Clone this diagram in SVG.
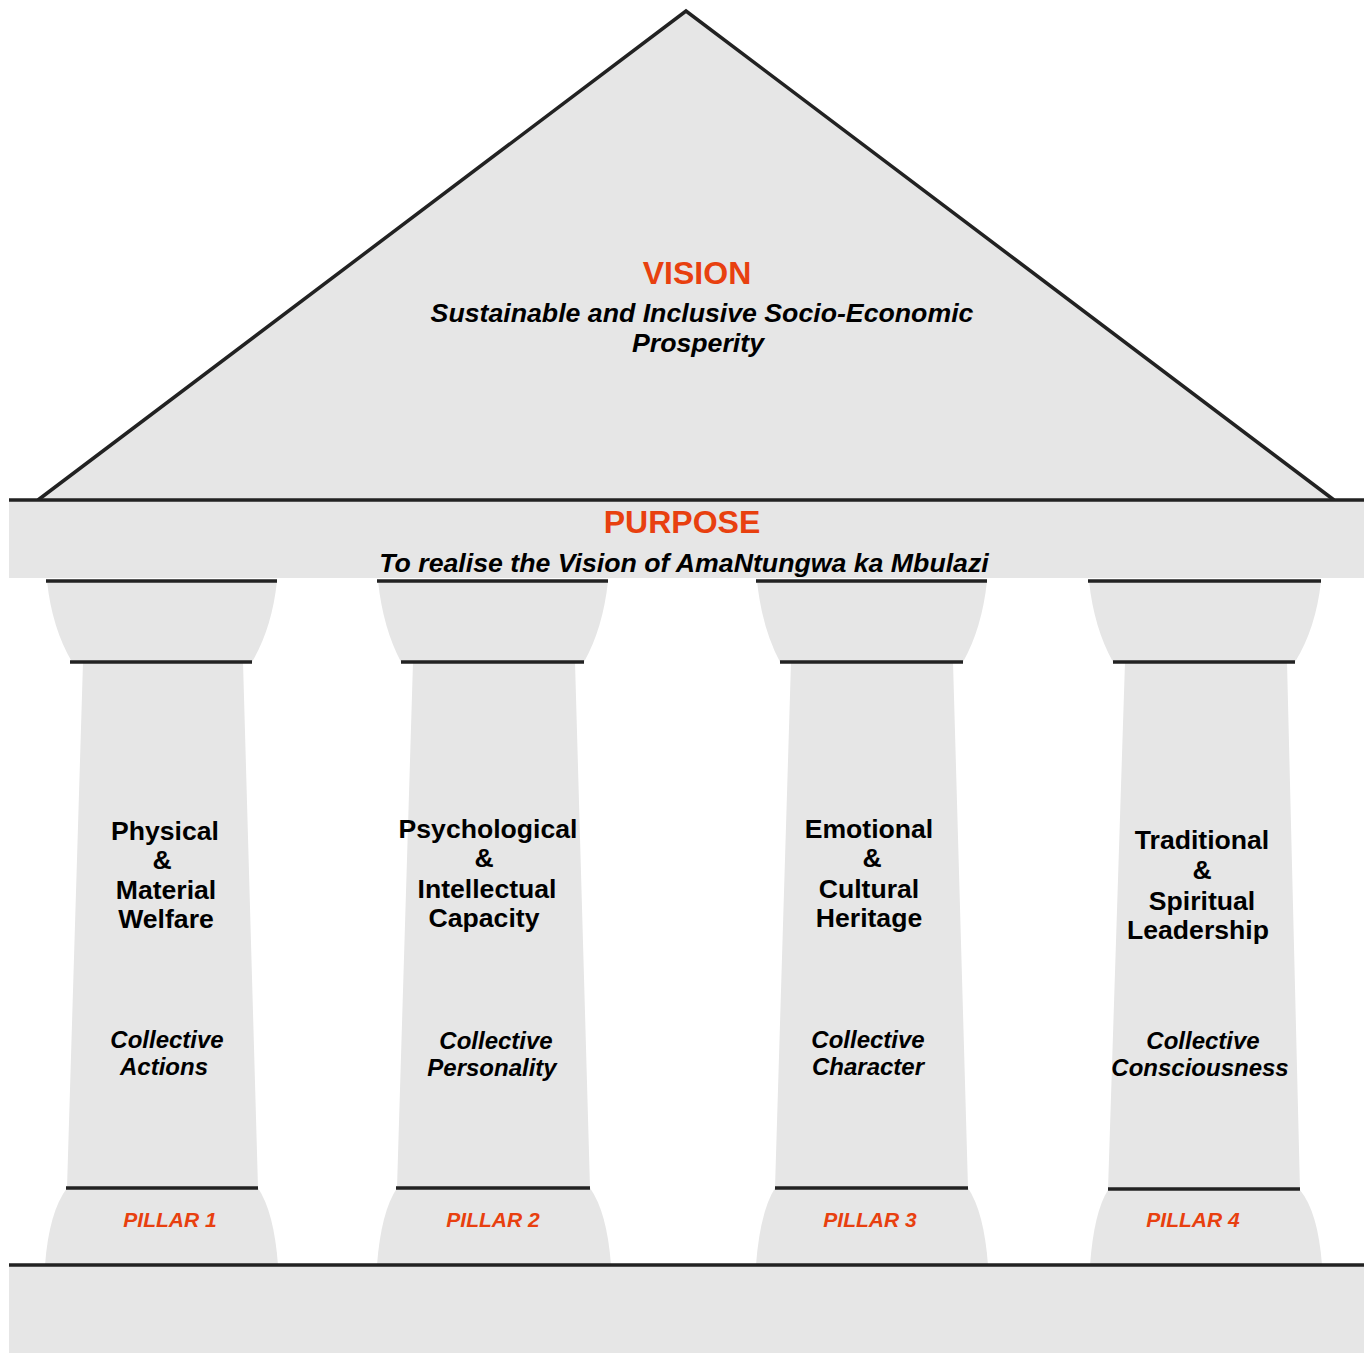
<svg xmlns="http://www.w3.org/2000/svg" width="1369" height="1353" viewBox="0 0 1369 1353">
<style>
.fill{fill:#e6e6e6;stroke:none}
.ln{stroke:#222;stroke-width:3.5;fill:none;stroke-linecap:butt}
.t{font-family:"Liberation Sans",Arial,sans-serif;font-weight:bold;text-anchor:middle;fill:#000}
.red{fill:#e8400f}
.h{font-size:32px}
.sub{font-size:26.7px;font-style:italic}
.pt{font-size:26.6px}
.ct{font-size:24px;font-style:italic}
.pl{font-size:21px;font-style:italic}
</style>
<rect width="1369" height="1353" fill="#fff"/>
<g id="vision">
<polygon class="fill" points="686,11 38,500 1334,500"/>
<polyline class="ln" points="38,500 686,11 1334,500" stroke-linejoin="miter"/>
<text class="t red h" x="697" y="284">VISION</text>
<text class="t sub" x="702" y="322">Sustainable and Inclusive Socio-Economic</text>
<text class="t sub" x="698" y="352">Prosperity</text>
</g>
<g id="purpose">
<rect class="fill" x="9" y="500" width="1355" height="78"/>
<line class="ln" x1="9" y1="500" x2="1364" y2="500"/>
<text class="t red h" x="682" y="533">PURPOSE</text>
<text class="t sub" x="684" y="572">To realise the Vision of AmaNtungwa ka Mbulazi</text>
</g>
<g id="pillar1">
<path class="fill" d="M47,581 L277,581 Q272,628 252,662 L243,662 L258,1188 L67,1188 L83,662 L72,662 Q52,628 47,581 Z"/>
<path class="fill" d="M67,1188 L258,1188 Q274,1212 278,1265 L45,1265 Q49,1212 67,1188 Z"/>
<line class="ln" x1="46" y1="581" x2="277" y2="581"/>
<line class="ln" x1="70" y1="662" x2="252" y2="662"/>
<line class="ln" x1="66" y1="1188" x2="258" y2="1188"/>
<text class="t pt" x="165" y="840">Physical</text>
<text class="t pt" x="162" y="869">&amp;</text>
<text class="t pt" x="166" y="899">Material</text>
<text class="t pt" x="166" y="928">Welfare</text>
<text class="t ct" x="167" y="1048">Collective</text>
<text class="t ct" x="164" y="1075">Actions</text>
<text class="t red pl" x="170" y="1227">PILLAR 1</text>
</g>
<g id="pillar2">
<path class="fill" d="M378,581 L608,581 Q603,628 584,662 L575,662 L590,1188 L397,1188 L413,662 L401,662 Q383,628 378,581 Z"/>
<path class="fill" d="M397,1188 L590,1188 Q607,1212 611,1265 L377,1265 Q381,1212 397,1188 Z"/>
<line class="ln" x1="377" y1="581" x2="608" y2="581"/>
<line class="ln" x1="401" y1="662" x2="584" y2="662"/>
<line class="ln" x1="396" y1="1188" x2="590" y2="1188"/>
<text class="t pt" x="488" y="838">Psychological</text>
<text class="t pt" x="484" y="867">&amp;</text>
<text class="t pt" x="487" y="898">Intellectual</text>
<text class="t pt" x="484" y="927">Capacity</text>
<text class="t ct" x="496" y="1049">Collective</text>
<text class="t ct" x="492" y="1076">Personality</text>
<text class="t red pl" x="493" y="1227">PILLAR 2</text>
</g>
<g id="pillar3">
<path class="fill" d="M757,581 L987,581 Q982,628 963,662 L953,662 L968,1188 L775,1188 L791,662 L780,662 Q762,628 757,581 Z"/>
<path class="fill" d="M775,1188 L968,1188 Q984,1212 988,1265 L756,1265 Q760,1212 775,1188 Z"/>
<line class="ln" x1="756" y1="581" x2="987" y2="581"/>
<line class="ln" x1="780" y1="662" x2="963" y2="662"/>
<line class="ln" x1="775" y1="1188" x2="968" y2="1188"/>
<text class="t pt" x="869" y="838">Emotional</text>
<text class="t pt" x="872" y="867">&amp;</text>
<text class="t pt" x="869" y="898">Cultural</text>
<text class="t pt" x="869" y="927">Heritage</text>
<text class="t ct" x="868" y="1048">Collective</text>
<text class="t ct" x="868" y="1075">Character</text>
<text class="t red pl" x="870" y="1227">PILLAR 3</text>
</g>
<g id="pillar4">
<path class="fill" d="M1089,581 L1321,581 Q1316,628 1295,662 L1287,662 L1300,1190 L1108,1190 L1125,662 L1113,662 Q1094,628 1089,581 Z"/>
<path class="fill" d="M1108,1190 L1300,1190 Q1318,1212 1322,1265 L1090,1265 Q1094,1212 1108,1190 Z"/>
<line class="ln" x1="1088" y1="581" x2="1321" y2="581"/>
<line class="ln" x1="1113" y1="662" x2="1295" y2="662"/>
<line class="ln" x1="1108" y1="1189" x2="1300" y2="1189"/>
<text class="t pt" x="1202" y="849">Traditional</text>
<text class="t pt" x="1202" y="879">&amp;</text>
<text class="t pt" x="1202" y="910">Spiritual</text>
<text class="t pt" x="1198" y="939">Leadership</text>
<text class="t ct" x="1203" y="1049">Collective</text>
<text class="t ct" x="1200" y="1076">Consciousness</text>
<text class="t red pl" x="1193" y="1227">PILLAR 4</text>
</g>
<g id="floor">
<rect class="fill" x="9" y="1265" width="1355" height="88"/>
<line class="ln" x1="9" y1="1265" x2="1364" y2="1265"/>
</g>
</svg>
